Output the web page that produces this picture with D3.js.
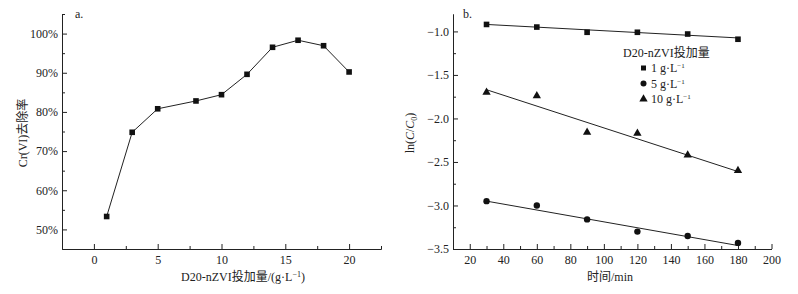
<!DOCTYPE html>
<html lang="zh">
<head>
  <meta charset="UTF-8">
  <title>D20-nZVI Cr(VI)</title>
  <script src="https://d3js.org/d3.v7.min.js"></script>
  <style>
    body { margin: 0; background: #fff; }
    svg { display: block; font-family: "Liberation Serif", "Noto Sans CJK SC", serif; }
    .axis path, .axis line { stroke: #222; stroke-width: 1px; }
    .axis text { font-size: 12px; fill: #222; font-family: "Liberation Serif", serif; }
    .lbl { font-size: 12px; fill: #222; }
  </style>
</head>
<body>
<svg id="chart" width="798" height="294"></svg>
<script>
  // panel a: removal rate vs dosage
  const doseA = [1, 3, 5, 8, 10, 12, 14, 16, 18, 20];
  const removalA = [53.3, 74.8, 80.8, 82.8, 84.4, 89.6, 96.5, 98.3, 96.9, 90.2];
  const xTicksA = [0, 5, 10, 15, 20];
  const yTicksA = [50, 60, 70, 80, 90, 100];

  // panel b: ln(C/C0) vs time
  const timeB = [30, 60, 90, 120, 150, 180];
  const series1 = [-0.92, -0.95, -1.01, -1.01, -1.03, -1.09];   // 1 g/L
  const series5 = [-2.95, -3.00, -3.16, -3.30, -3.35, -3.43];   // 5 g/L
  const series10 = [-1.70, -1.74, -2.16, -2.17, -2.42, -2.60];  // 10 g/L
  const fitTime = [30, 180];
  const fit1 = [-0.92, -1.075];
  const fit5 = [-2.95, -3.46];
  const fit10 = [-1.67, -2.61];
  const xTicksB = [20, 40, 60, 80, 100, 120, 140, 160, 180, 200];
  const yTicksB = [-1.0, -1.5, -2.0, -2.5, -3.0, -3.5];
  const legendLabels = ["1 g·L", "5 g·L", "10 g·L"];

  const svg = d3.select("#chart");
  const topY = 14, bottomY = 249;

  function addAxes(g, x, y, xt, xMinor, yt, yMinor, yFmt) {
    g.append("g").attr("class", "axis")
      .attr("transform", `translate(0,${bottomY})`)
      .call(d3.axisBottom(x).tickValues(xt).tickSizeInner(-5).tickSizeOuter(0).tickPadding(6).tickFormat(d3.format("d")));
    g.append("g").attr("class", "axis")
      .attr("transform", `translate(0,${bottomY})`)
      .call(d3.axisBottom(x).tickValues(xMinor).tickSizeInner(-3).tickSizeOuter(0).tickFormat(""));
    g.append("g").attr("class", "axis")
      .attr("transform", `translate(${x.range()[0]},0)`)
      .call(d3.axisLeft(y).tickValues(yt).tickSizeInner(-5).tickSizeOuter(0).tickPadding(4).tickFormat(yFmt));
    g.append("g").attr("class", "axis")
      .attr("transform", `translate(${x.range()[0]},0)`)
      .call(d3.axisLeft(y).tickValues(yMinor).tickSizeInner(-3).tickSizeOuter(0).tickFormat(""));
  }

  // ---- panel a ----
  const xA = d3.scaleLinear().domain([-2.5, 22.5]).range([62, 381]);
  const yA = d3.scaleLinear().domain([45, 105]).range([bottomY, topY]);
  const gA = svg.append("g");
  addAxes(gA, xA, yA, xTicksA, [2.5, 7.5, 12.5, 17.5, 22.5],
    yTicksA, [55, 65, 75, 85, 95, 105], d => d + "%");

  const ptsA = doseA.map((d, i) => [d, removalA[i]]);
  gA.append("path").datum(ptsA)
    .attr("fill", "none").attr("stroke", "#222").attr("stroke-width", 1)
    .attr("d", d3.line().x(d => xA(d[0])).y(d => yA(d[1])));
  gA.selectAll("rect.pt").data(ptsA).enter().append("rect")
    .attr("x", d => xA(d[0]) - 2.8).attr("y", d => yA(d[1]) - 2.8)
    .attr("width", 5.6).attr("height", 5.6).attr("fill", "#111");

  gA.append("text").attr("class", "lbl").attr("x", 75).attr("y", 18).text("a.");
  gA.append("text").attr("class", "lbl")
    .attr("transform", "translate(27,133) rotate(-90)").attr("text-anchor", "middle")
    .text("Cr(VI)去除率");
  const xlA = gA.append("text").attr("class", "lbl").attr("x", 243).attr("y", 281).attr("text-anchor", "middle");
  xlA.append("tspan").text("D20-nZVI投加量/(g·L");
  xlA.append("tspan").attr("dy", -4).attr("font-size", 8).text("−1");
  xlA.append("tspan").attr("dy", 4).text(")");

  // ---- panel b ----
  const xB = d3.scaleLinear().domain([10, 200]).range([453, 771.5]);
  const yB = d3.scaleLinear().domain([-3.5, -0.8]).range([bottomY, topY]);
  const gB = svg.append("g");
  addAxes(gB, xB, yB, xTicksB, [30, 50, 70, 90, 110, 130, 150, 170, 190],
    yTicksB, [-1.25, -1.75, -2.25, -2.75, -3.25],
    d => d3.format(".1f")(d).replace("-", "−"));

  const lineB = d3.line().x(d => xB(d[0])).y(d => yB(d[1]));
  [fit1, fit5, fit10].forEach(f => {
    gB.append("path").datum(fitTime.map((t, i) => [t, f[i]]))
      .attr("fill", "none").attr("stroke", "#222").attr("stroke-width", 1).attr("d", lineB);
  });

  gB.selectAll("rect.s1").data(timeB.map((t, i) => [t, series1[i]])).enter().append("rect")
    .attr("x", d => xB(d[0]) - 2.8).attr("y", d => yB(d[1]) - 2.8)
    .attr("width", 5.6).attr("height", 5.6).attr("fill", "#111");
  gB.selectAll("circle.s5").data(timeB.map((t, i) => [t, series5[i]])).enter().append("circle")
    .attr("cx", d => xB(d[0])).attr("cy", d => yB(d[1])).attr("r", 3.2).attr("fill", "#111");
  const tri = d3.symbol().type(d3.symbolTriangle).size(30);
  gB.selectAll("path.s10").data(timeB.map((t, i) => [t, series10[i]])).enter().append("path")
    .attr("d", tri).attr("transform", d => `translate(${xB(d[0])},${yB(d[1])})`).attr("fill", "#111");

  gB.append("text").attr("class", "lbl").attr("x", 463).attr("y", 18).text("b.");
  const ylB = gB.append("text").attr("class", "lbl")
    .attr("transform", "translate(414,133) rotate(-90)").attr("text-anchor", "middle");
  ylB.append("tspan").text("ln(");
  ylB.append("tspan").attr("font-style", "italic").text("C");
  ylB.append("tspan").text("/");
  ylB.append("tspan").attr("font-style", "italic").text("C");
  ylB.append("tspan").attr("font-size", 8).attr("dy", 3).text("0");
  ylB.append("tspan").attr("dy", -3).text(")");
  gB.append("text").attr("class", "lbl").attr("x", 610).attr("y", 281).attr("text-anchor", "middle").text("时间/min");

  // legend
  const leg = gB.append("g");
  leg.append("text").attr("class", "lbl").attr("x", 623).attr("y", 57).text("D20-nZVI投加量");
  const legY = [68, 83.5, 99];
  leg.append("rect").attr("x", 643.5 - 2.5).attr("y", legY[0] - 2.5).attr("width", 5).attr("height", 5).attr("fill", "#111");
  leg.append("circle").attr("cx", 643.5).attr("cy", legY[1]).attr("r", 3).attr("fill", "#111");
  leg.append("path").attr("d", tri).attr("transform", `translate(643.5,${legY[2]})`).attr("fill", "#111");
  legendLabels.forEach((l, i) => {
    const t = leg.append("text").attr("class", "lbl").attr("x", 651).attr("y", legY[i] + 4);
    t.append("tspan").text(l);
    t.append("tspan").attr("dy", -4).attr("font-size", 7).text("−1");
  });
</script>
</body>
</html>
